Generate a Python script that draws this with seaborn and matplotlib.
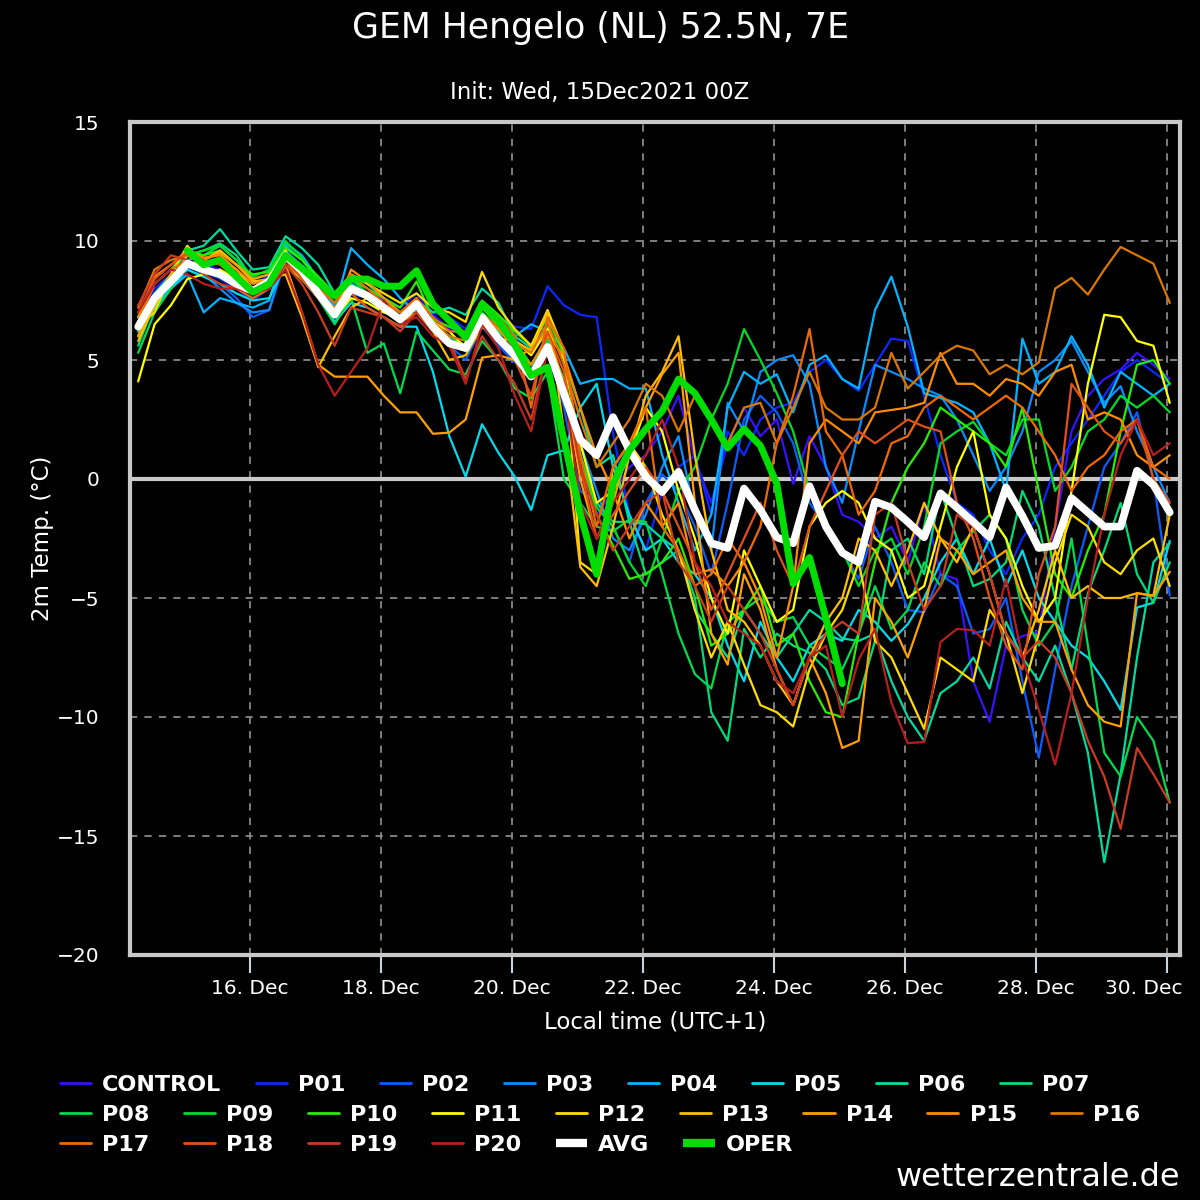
import pandas as pd
import matplotlib
matplotlib.use("Agg")
import matplotlib.pyplot as plt
import matplotlib.dates as mdates
import matplotlib.transforms as mtransforms
from matplotlib.lines import Line2D
import seaborn as sns

# 2m temperature, 6-hourly, ensemble members
control = [6.8, 8.0, 8.6, 9.2, 9.0, 8.8, 8.3, 8.0,
           8.6, 9.6, 9.0, 8.2, 7.6, 8.4, 8.0, 7.6,
           7.2, 7.8, 6.9, 6.3, 6.0, 7.2, 6.5, 5.9,
           5.2, 6.2, 3.8, 0.5, -1.5, -0.5, 0.5, 1.0,
           2.0, 3.5, 0.8, -1.0, 1.5, 3.0, 1.8, 2.5,
           -0.2, 1.8, 0.5, -1.5, -1.8, -2.5, -2.0, -3.5,
           -1.0, -4.0, -4.2, -8.5, -10.2, -7.0, -6.6, -6.4,
           -2.0, 2.0, 3.5, 4.2, 4.6, 5.3, 4.8, 4.2]
p01 = [6.5, 7.6, 8.2, 8.9, 8.7, 8.4, 8.0, 7.5,
       8.0, 9.3, 8.9, 8.2, 7.3, 8.3, 8.0, 7.5,
       7.2, 7.8, 7.0, 6.8, 6.3, 7.4, 6.8, 6.4,
       6.3, 8.1, 7.3, 6.9, 6.8, 1.9, -1.5, -3.0,
       -0.5, 0.5, 1.0, -1.5, 2.0, 1.0, 2.5, 3.0,
       3.2, 4.5, 5.0, 4.2, 3.7, 4.8, 5.9, 5.8,
       3.5, 1.0, -1.0, -1.5, -3.0, -4.0, -2.5, -1.5,
       0.5, 1.5, 2.5, 3.5, 4.5, 5.0, 4.5, 4.0]
p02 = [6.2, 7.4, 8.1, 8.8, 8.5, 8.2, 7.6, 6.8,
       7.1, 9.2, 8.6, 7.6, 6.8, 7.8, 7.6, 7.2,
       6.6, 7.4, 6.2, 5.6, 5.0, 6.4, 5.6, 4.9,
       4.5, 5.8, 3.0, -0.5, -1.0, -2.0, -3.5, -1.0,
       0.2, -0.5, -2.0, -4.0, -1.0, 2.5, 3.5, 2.8,
       1.5, -1.0, -2.0, -3.0, -4.2, -2.0, -3.5, -5.5,
       -5.6, -4.0, -4.5, -6.5, -6.3, -5.0, -8.5, -11.7,
       -8.0, -4.5, -2.0, 0.5, 1.5, 2.8, 0.0, -4.9]
p03 = [6.6, 7.8, 8.4, 9.0, 8.6, 8.0, 7.4, 7.0,
       7.1, 9.4, 8.9, 8.0, 7.2, 8.2, 7.8, 7.3,
       6.8, 7.2, 6.5, 5.9, 5.6, 6.9, 6.0, 5.3,
       4.6, 6.0, 4.0, 1.5, -0.5, -2.5, -3.0, -1.5,
       0.5, 1.8, -1.5, -3.0, 3.2, 2.0, 4.5, 5.0,
       5.2, 4.0, 0.5, -1.0, 2.0, 4.8, 4.5, 4.2,
       3.8, 3.5, 2.5, 1.0, -0.5, 0.5, 2.0, 4.5,
       5.0, 5.8, 4.5, 3.2, 3.9, 2.0, 0.5, -1.0]
p04 = [6.4, 7.2, 8.0, 8.6, 7.0, 7.6, 7.4, 7.2,
       7.5, 9.9, 9.4, 8.4, 7.2, 9.7, 9.0, 8.4,
       7.6, 7.0, 6.6, 6.0, 5.6, 6.5, 6.3, 6.0,
       6.5, 6.2, 5.5, 4.0, 4.2, 4.2, 3.8, 3.8,
       1.0, -1.0, -3.0, -1.5, 3.0, 4.5, 4.0, 4.4,
       2.8, 4.8, 5.2, 4.2, 3.8, 7.1, 8.5, 6.4,
       3.6, 3.4, 3.2, 2.8, 1.5, -0.5, 5.9, 4.0,
       4.5, 6.0, 4.8, 3.0, 4.5, 4.0, 3.5, 4.0]
p05 = [6.0, 7.2, 8.0, 8.8, 8.5, 8.2, 7.8, 7.5,
       7.6, 9.0, 8.4, 7.6, 6.6, 7.4, 7.2, 6.8,
       6.4, 6.4, 4.5, 1.8, 0.1, 2.3, 1.1, 0.1,
       -1.3, 1.0, 1.2, 3.0, 4.0, 0.5, -1.5, -3.0,
       -2.5, -3.5, -4.0, -5.0, -7.0, -8.5, -6.0, -7.5,
       -8.5, -7.0, -6.5, -6.8, -5.5, -6.0, -6.8, -6.1,
       -5.0, -3.5, -2.5, -4.0, -2.5, -4.5, -3.0, -5.0,
       -6.0, -7.0, -7.5, -8.5, -9.7, -5.4, -5.2, -2.6]
p06 = [6.2, 7.8, 8.6, 9.6, 9.8, 10.5, 9.6, 8.8,
       8.9, 10.2, 9.7, 9.0, 7.8, 8.6, 8.2, 7.6,
       7.0, 7.5, 7.0, 7.2, 6.9, 8.0, 7.4, 6.0,
       5.5, 6.4, 5.0, 3.0, 0.5, 1.0, -1.8, -1.9,
       -2.5, -3.0, -5.5, -6.5, -7.5, -5.5, -6.5, -7.5,
       -6.5, -5.5, -6.0, -6.7, -6.8, -6.5, -8.5, -10.0,
       -11.0, -9.0, -8.5, -7.5, -8.8, -6.0, -7.5, -8.5,
       -7.0, -9.0, -11.5, -16.1, -12.4, -7.5, -3.5, -2.7]
p07 = [5.6, 7.4, 8.2, 9.4, 9.6, 9.9, 9.4, 8.4,
       8.6, 9.8, 9.2, 8.4, 7.6, 8.2, 7.8, 7.4,
       7.0, 7.3, 6.6, 5.8, 5.4, 6.5, 6.2, 5.6,
       4.8, 5.8, 4.2, 1.0, -1.0, -1.8, -1.8, -4.0,
       -3.5, -3.0, -5.0, -9.8, -11.0, -6.3, -7.5, -6.5,
       -7.0, -7.3, -8.0, -9.5, -9.2, -6.8, -3.0, -2.5,
       -4.0, -0.5, -2.5, -4.5, -4.2, -3.5, -0.5, -2.0,
       -5.0, -8.0, -4.8, -3.0, -1.0, -4.0, -5.2, -3.5]
p08 = [5.3, 7.0, 8.0, 9.2, 9.4, 9.8, 9.2, 8.3,
       8.2, 9.4, 8.6, 7.6, 6.5, 7.6, 5.3, 5.7,
       3.6, 6.2, 5.4, 4.6, 4.4, 5.8, 5.0, 3.8,
       3.4, 4.5, 0.0, -1.0, -2.0, -2.2, -1.7, -1.8,
       -4.0, -6.5, -8.2, -8.8, -6.0, -5.5, -5.0, -6.0,
       -5.8, -7.0, -7.5, -8.0, -6.5, -4.5, -6.3, -5.5,
       -3.5, -4.5, -3.0, -2.2, -1.5, -2.5, -5.5, -7.0,
       -6.0, -2.5, -7.0, -11.5, -12.5, -10.0, -11.0, -13.6]
p09 = [6.0, 7.6, 8.4, 9.4, 9.6, 9.8, 9.2, 8.5,
       8.8, 10.0, 9.3, 8.2, 7.4, 8.4, 7.8, 7.0,
       6.8, 7.4, 6.6, 6.0, 5.6, 7.0, 6.4, 5.8,
       4.8, 5.9, 3.5, 1.0, -1.2, -2.0, -3.5, -4.5,
       -2.5, -0.5, 0.5, 2.5, 4.0, 6.3, 5.0, 3.6,
       2.0, -0.5, -2.0, -3.0, -4.5, -3.0, -2.5, -4.0,
       -2.0, 1.5, 2.0, 2.4, 1.5, 1.0, 2.5, 2.5,
       -0.5, 0.5, 2.0, 2.5, 3.5, 3.0, 3.5, 2.8]
p10 = [6.8, 8.2, 8.8, 9.6, 9.4, 9.6, 9.0, 8.6,
       8.7, 9.7, 9.2, 8.5, 7.8, 8.4, 8.0, 7.6,
       7.2, 8.3, 6.7, 6.4, 6.1, 7.5, 6.9, 6.2,
       5.6, 6.8, 5.2, 1.0, -1.5, -2.8, -4.2, -4.0,
       -3.5, -2.5, -4.5, -7.0, -6.5, -5.5, -4.5, -7.0,
       -6.5, -8.5, -9.8, -10.0, -6.5, -3.5, -1.0, 0.5,
       1.5, 3.0, 2.5, 2.0, 1.5, 0.5, 3.0, -0.5,
       -4.0, -5.0, -3.0, -1.5, 2.0, 4.8, 5.0, 4.0]
p11 = [4.1, 6.5, 7.3, 8.4, 8.6, 8.8, 8.4, 8.0,
       8.2, 9.0, 8.4, 7.6, 6.8, 7.6, 7.4, 7.0,
       6.8, 7.3, 6.6, 6.2, 5.5, 7.2, 6.5, 5.8,
       5.2, 6.3, 5.0, 1.5, -1.0, -0.5, 1.0, 3.0,
       2.0, -0.5, -2.5, -5.0, -6.5, -3.0, -4.5, -6.0,
       -5.5, -2.0, -1.0, -0.5, -1.0, -2.5, -3.0, -5.0,
       -4.5, -2.0, 0.5, 2.0, -1.5, -2.5, -4.5, -6.0,
       -5.0, -0.5, 4.0, 6.9, 6.8, 5.8, 5.6, 3.2]
p12 = [6.4, 7.0, 8.6, 9.8, 9.0, 9.2, 8.8, 8.0,
       8.4, 9.6, 8.4, 7.8, 7.0, 8.6, 8.2, 7.8,
       7.4, 7.8, 7.2, 7.0, 6.6, 8.7, 7.2, 6.3,
       5.6, 7.1, 5.4, -3.5, -4.0, 0.5, 1.5, 0.5,
       -1.5, -3.0, -5.5, -7.5, -6.0, -7.8, -9.5, -9.8,
       -10.4, -8.0, -6.5, -5.5, -3.5, -6.8, -7.5, -9.0,
       -10.5, -7.5, -8.0, -8.5, -5.5, -6.5, -9.0, -6.5,
       -3.5, -1.5, -2.0, -3.5, -4.0, -3.0, -2.5, -4.5]
p13 = [5.8, 7.3, 8.4, 9.4, 9.2, 9.6, 9.0, 8.3,
       8.4, 8.6, 6.8, 4.7, 6.0, 7.2, 7.6, 7.2,
       6.6, 7.0, 6.2, 5.0, 5.2, 6.4, 5.9, 5.8,
       5.4, 7.0, 2.0, -3.7, -4.5, -2.0, 1.0, 3.5,
       4.5, 6.0, 1.0, -3.0, -5.5, -6.0, -7.0, -8.5,
       -9.5, -7.5, -6.0, -5.0, -2.5, -3.0, -4.5, -3.0,
       -1.0, -2.5, -3.5, -2.0, -4.0, -6.5, -7.5, -5.5,
       -3.0, -5.0, -4.5, -5.0, -5.0, -4.8, -4.9, -1.5]
p14 = [6.0, 7.6, 8.6, 9.0, 9.2, 9.5, 9.0, 8.4,
       8.6, 9.0, 7.0, 4.8, 4.3, 4.3, 4.3, 3.5,
       2.8, 2.8, 1.9, 1.95, 2.5, 5.1, 5.2, 5.0,
       5.5, 6.2, 4.0, 0.0, -2.5, -1.0, 1.5, 3.0,
       4.4, 5.3, -1.0, -6.5, -7.8, -4.0, -5.5, -8.0,
       -9.5, -7.5, -9.0, -11.3, -11.0, -5.0, -6.0, -7.5,
       -5.5, -2.5, -3.0, -4.0, -3.5, -3.0, -5.0, -6.0,
       -6.0, -8.0, -9.5, -10.2, -10.4, -4.8, -4.9, -3.9]
p15 = [6.8, 8.5, 9.0, 9.6, 9.3, 9.4, 8.8, 8.2,
       8.4, 9.2, 8.6, 7.8, 7.0, 8.8, 8.3, 7.6,
       7.0, 7.6, 6.5, 5.8, 5.6, 6.8, 6.3, 5.5,
       4.8, 6.0, 5.2, 3.0, 1.0, -0.5, -2.5, -1.0,
       -2.0, -1.0, -4.0, -3.8, -4.5, -3.5, -5.0, -7.5,
       -4.5, 1.5, 2.5, 2.0, 1.5, 2.8, 2.9, 3.0,
       3.2, 5.3, 4.0, 4.0, 3.5, 4.2, 4.0, 3.5,
       4.5, 4.8, 2.5, 2.8, 2.5, 1.0, 0.5, 1.0]
p16 = [7.2, 8.8, 9.2, 9.4, 9.0, 9.2, 8.6, 8.0,
       8.2, 9.0, 8.5, 7.8, 7.2, 8.0, 7.6, 7.4,
       6.8, 7.4, 6.6, 6.0, 5.8, 6.9, 6.4, 5.7,
       5.3, 6.6, 4.8, 2.5, 0.5, 1.5, 2.5, 4.0,
       3.5, 2.0, 3.5, 2.5, 1.5, 3.0, 3.2, 1.5,
       3.0, 4.5, 3.0, 2.5, 2.5, 3.0, 5.3, 3.8,
       4.5, 5.2, 5.6, 5.4, 4.4, 4.8, 4.4, 4.9,
       8.0, 8.45, 7.75, 8.8, 9.75, 9.4, 9.05, 7.4]
p17 = [6.6, 8.2, 8.8, 9.2, 8.8, 8.6, 8.0, 7.6,
       8.0, 9.4, 8.8, 8.0, 7.4, 8.6, 8.0, 7.4,
       7.0, 7.6, 6.8, 6.2, 6.2, 7.4, 6.8, 6.0,
       3.0, 6.8, 5.5, 1.0, -2.0, 0.5, 1.5, 3.0,
       -2.0, -3.0, -4.5, -4.0, -2.5, -3.5, -2.0, 1.5,
       3.5, 6.3, 2.0, 1.0, -1.5, -0.5, 1.5, 1.8,
       3.0, 3.5, 3.0, 2.5, 3.0, 3.5, 3.0, 2.0,
       1.0, -0.5, 0.5, 1.0, 2.0, 2.5, 0.5, 0.0]
p18 = [7.0, 8.4, 9.0, 9.5, 9.2, 9.0, 8.4, 7.8,
       8.2, 9.2, 8.4, 7.6, 6.8, 7.8, 7.2, 6.8,
       6.4, 7.0, 6.2, 5.6, 5.4, 6.6, 6.0, 5.0,
       3.5, 6.2, 4.5, 0.5, -2.5, -1.5, -0.5, 0.5,
       -0.5, -2.0, -3.5, -5.5, -4.0, -2.5, -1.0, -3.0,
       -4.5, -2.0, -0.5, 1.0, 2.0, 1.5, 2.0, 2.5,
       2.2, 2.0, -1.0, -2.5, -5.0, -7.0, -8.0, -4.0,
       -2.0, 4.0, 3.0, 2.0, 1.5, 2.5, 0.0, -1.0]
p19 = [7.3, 8.6, 9.4, 9.2, 8.6, 8.2, 8.0, 7.8,
       8.0, 9.0, 8.2, 7.0, 5.6, 7.2, 7.0, 6.8,
       6.2, 7.0, 6.4, 5.8, 4.2, 6.0, 5.0, 4.0,
       2.5, 5.5, 4.0, 0.5, -1.5, -3.0, -2.0, -1.0,
       -0.5, -3.5, -4.5, -6.0, -4.5, -5.5, -6.5, -8.0,
       -9.5, -7.5, -6.5, -6.0, -6.5, -1.5, -1.0, -3.5,
       -5.5, -4.5, -1.5, -2.0, -4.0, -6.5, -7.5, -6.8,
       -7.5, -9.0, -11.0, -12.5, -14.7, -11.3, -12.4, -13.6]
p20 = [7.0, 8.2, 8.8, 8.6, 8.2, 8.0, 8.0, 7.8,
       8.0, 8.8, 7.0, 4.8, 3.5, 4.5, 5.5, 7.5,
       6.5, 6.8, 6.0, 5.6, 4.0, 6.5, 5.5, 3.5,
       2.0, 5.5, 4.0, -1.0, -2.5, -1.0, 0.0, 1.0,
       2.5, 0.5, -3.5, -4.5, -6.0, -6.5, -7.0, -8.5,
       -9.0, -7.5, -7.0, -10.0, -7.6, -6.3, -9.4, -11.1,
       -11.05, -6.85, -6.3, -6.35, -7.0, -4.2, -7.5, -9.7,
       -12.0, -9.0, -5.0, -1.5, 1.0, 2.5, 1.0, 1.5]

# ensemble mean
avg = [6.4, 7.6, 8.3, 9.05, 8.8, 8.6, 8.2, 7.9,
       8.3, 9.4, 8.75, 7.8, 6.9, 8.0, 7.7, 7.2,
       6.7, 7.35, 6.4, 5.7, 5.5, 6.8, 5.9, 5.2,
       4.3, 5.55, 3.6, 1.65, 1.0, 2.6, 1.2, 0.1,
       -0.55, 0.3, -1.3, -2.7, -2.9, -0.4, -1.3, -2.45,
       -2.7, -0.3, -2.0, -3.1, -3.5, -0.95, -1.2, -1.8,
       -2.45, -0.6, -1.2, -1.8, -2.45, -0.35, -1.55, -2.9,
       -2.8, -0.8, -1.4, -2.0, -2.0, 0.35, -0.25, -1.4]

# deterministic run (10 days)
oper = [9.6, 9.0, 9.2, 8.5, 7.85, 8.2, 9.4, 8.85, 8.25, 7.7,
        8.4, 8.4, 8.1, 8.1, 8.75, 7.35, 6.65, 5.95, 7.35, 6.65,
        5.65, 4.35, 4.7, 1.65, -1.45, -4.0, -0.2, 1.2, 2.1, 2.85,
        4.2, 3.6, 2.5, 1.3, 2.1, 1.4, -0.2, -4.4, -3.3, -5.85, -8.6]

names = ["CONTROL"] + [f"P{k:02d}" for k in range(1, 21)]
members = [control, p01, p02, p03, p04, p05, p06, p07, p08, p09, p10,
           p11, p12, p13, p14, p15, p16, p17, p18, p19, p20]
colors = ["#3a10ff", "#0a28ff", "#0a5cff", "#0a8cff", "#00b4ff", "#00dcee",
          "#00dca0", "#00dc78", "#00dc50", "#00dc28", "#28ee00", "#ffff00",
          "#ffdc00", "#ffbe00", "#ffa000", "#ff8c00", "#dc7800", "#ee6a00",
          "#e05018", "#cc3a22", "#b81e1e"]

ens_times = pd.date_range("2021-12-14 07:00", periods=64, freq="6h")
oper_times = pd.date_range("2021-12-15 01:00", periods=len(oper), freq="6h")

df = pd.concat([
    pd.DataFrame({"time": ens_times[:len(v)], "temp": v, "member": n})
    for n, v in zip(names, members)
])

sns.set_style("dark")
plt.rcParams["font.family"] = ["DejaVu Sans"]

fig = plt.figure(figsize=(12, 12), dpi=100, facecolor="black")
ax = fig.add_axes([130 / 1200, 1 - 955 / 1200, 1050 / 1200, 833 / 1200])
ax.set_facecolor("black")

ax.axhline(0, color="#c8c8c8", lw=3, zorder=1)
sns.lineplot(data=df, x="time", y="temp", hue="member", hue_order=names,
             palette=dict(zip(names, colors)), estimator=None, sort=False,
             lw=1.6, legend=False, ax=ax, zorder=3)
sns.lineplot(x=ens_times, y=avg, color="white", lw=5.5, ax=ax, zorder=4)
sns.lineplot(x=oper_times, y=oper, color="#00dd00", lw=5, ax=ax, zorder=5)

ax.set_xlim(pd.Timestamp("2021-12-14 04:00"), pd.Timestamp("2021-12-30 04:45"))
ax.set_ylim(-20, 15)
ax.set_yticks(range(-20, 16, 5))
ax.xaxis.set_major_locator(mdates.DayLocator(bymonthday=range(16, 31, 2)))
ax.xaxis.set_major_formatter(mdates.DateFormatter("%d. %b"))
ax.grid(True, color="#888888", ls=(0, (4, 4)), lw=1.3)
ax.tick_params(axis="y", colors="white", labelsize=14.5, length=0, pad=22)
ax.tick_params(axis="x", bottom=True, colors="#c8d4e4", labelcolor="white",
               labelsize=14.5, length=13, width=1.5, direction="out", pad=4)
ax.set_xlabel("")
ax.set_ylabel("")
for sp in ax.spines.values():
    sp.set_color("#c8c8c8")
    sp.set_linewidth(3)

# last date label is pushed left so it stays inside the picture
fig.canvas.draw()
last = ax.xaxis.get_major_ticks()[-1].label1
last.set_horizontalalignment("right")
last.set_transform(last.get_transform()
                   + mtransforms.ScaledTranslation(0.15, 0, fig.dpi_scale_trans))

fig.text(0.5, 1 - 28 / 1200, "GEM Hengelo (NL) 52.5N, 7E", color="white",
         fontsize=25, ha="center", va="center")
fig.text(0.5, 1 - 92 / 1200, "Init: Wed, 15Dec2021 00Z", color="white",
         fontsize=16.5, ha="center", va="center")
fig.text(42 / 1200, 1 - 538 / 1200, "2m Temp. (°C)", color="white",
         fontsize=16.5, rotation=90, ha="center", va="center")
fig.text(655 / 1200, 1 - 1022 / 1200, "Local time (UTC+1)", color="white",
         fontsize=16.5, ha="center", va="center")
fig.text(1180 / 1200, 1 - 1178 / 1200, "wetterzentrale.de", color="white",
         fontsize=23, ha="right", va="center")

# legend in three rows like the original
handles = {n: Line2D([], [], color=c, lw=2) for n, c in zip(names, colors)}
handles["AVG"] = Line2D([], [], color="white", lw=6, solid_capstyle="butt")
handles["OPER"] = Line2D([], [], color="#00dd00", lw=6, solid_capstyle="butt")
rows = [names[:8], names[8:17], names[17:] + ["AVG", "OPER"]]
for k, row in enumerate(rows):
    fig.legend([handles[n] for n in row], row, loc="center left",
               bbox_to_anchor=(60 / 1200, 1 - (1085 + 30 * k) / 1200),
               ncol=len(row), frameon=False, borderpad=0, borderaxespad=0,
               handlelength=1.4, handletextpad=0.5, columnspacing=1.55,
               prop={"weight": "bold", "size": 16}, labelcolor="white")

fig.savefig("out.png", dpi=100, facecolor="black")
